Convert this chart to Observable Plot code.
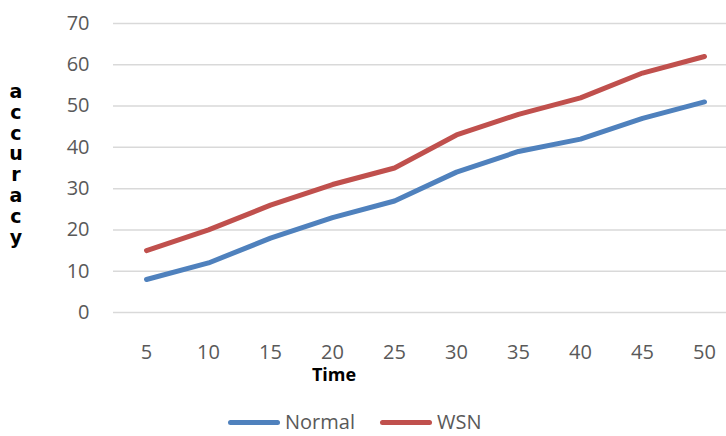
<!DOCTYPE html>
<html>
<head>
<meta charset="utf-8">
<script src="https://cdn.jsdelivr.net/npm/d3@7"></script>
<script src="https://cdn.jsdelivr.net/npm/@observablehq/plot@0.6"></script>
<style>
  body { margin: 0; background: #fff; font-family: "Open Sans", sans-serif; }
  #wrap { position: relative; width: 726px; height: 436px; overflow: hidden; }
  #ylab { position: absolute; left: 5px; top: 81px; width: 22px; text-align: center;
          font: bold 19px "DejaVu Sans", sans-serif; line-height: 20.8px; color: #000; }
  #xlab { position: absolute; left: 284px; top: 362px; width: 100px; text-align: center;
          font: bold 18px "Open Sans", sans-serif; color: #000; }
  #legend { position: absolute; left: 0; top: 408px; width: 726px; height: 28px; }
  .item { position: absolute; top: 0; height: 28px; display: flex; align-items: center; font-size: 20px; color: #595959; line-height: 28px; }
  .sw { display: inline-block; width: 52px; height: 5px; border-radius: 3px; margin-right: 5px; }
</style>
</head>
<body>
<div id="wrap">
  <div id="chart"></div>
  <div id="ylab"></div>
  <div id="xlab">Time</div>
  <div id="legend"></div>
</div>
<script>
const times = [5, 10, 15, 20, 25, 30, 35, 40, 45, 50];
const normal = [8, 12, 18, 23, 27, 34, 39, 42, 47, 51];
const wsn = [15, 20, 26, 31, 35, 43, 48, 52, 58, 62];
const seriesNames = ["Normal", "WSN"];
const seriesColors = ["#4F81BD", "#C0504D"];
const yTicks = [0, 10, 20, 30, 40, 50, 60, 70];
const yLabel = "accuracy";
const xLabel = "Time";

const data = [];
times.forEach((t, i) => {
  data.push({time: String(t), value: normal[i], series: seriesNames[0]});
  data.push({time: String(t), value: wsn[i], series: seriesNames[1]});
});

const chart = Plot.plot({
  width: 726,
  height: 390,
  marginLeft: 113,
  marginRight: 0,
  marginTop: 23,
  marginBottom: 78,
  style: { fontFamily: "Open Sans, sans-serif", fontSize: "20px", color: "#595959", background: "#fff" },
  x: { type: "point", domain: times.map(String), range: [145, 705], padding: 0 },
  y: { domain: [0, 70], ticks: yTicks },
  color: { domain: seriesNames, range: seriesColors },
  marks: [
    Plot.ruleY(yTicks, { stroke: "#d9d9d9", strokeWidth: 1.5, strokeOpacity: 1 }),
    Plot.axisY({ ticks: yTicks, tickSize: 0, tickPadding: 24, label: null, fill: "#595959", fontSize: 20 }),
    Plot.axisX({ tickSize: 0, tickPadding: 32, label: null, fill: "#595959", fontSize: 20 }),
    Plot.line(data, { x: "time", y: "value", z: "series", stroke: "series", strokeWidth: 5, strokeLinecap: "round", strokeLinejoin: "round" })
  ]
});
document.getElementById("chart").appendChild(chart);

document.getElementById("ylab").innerHTML = yLabel.split("").map(c => `<div>${c}</div>`).join("");
document.getElementById("xlab").textContent = xLabel;

const legend = document.getElementById("legend");
const lefts = [228, 380];
seriesNames.forEach((n, i) => {
  const d = document.createElement("div");
  d.className = "item";
  d.style.left = lefts[i] + "px";
  d.innerHTML = `<span class="sw" style="background:${seriesColors[i]}"></span><span>${n}</span>`;
  legend.appendChild(d);
});
</script>
</body>
</html>
